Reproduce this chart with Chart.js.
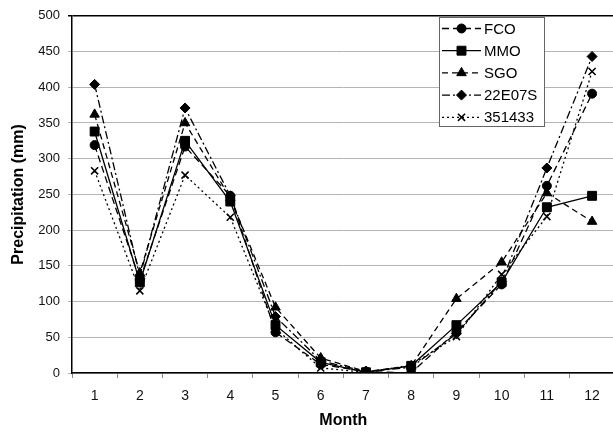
<!DOCTYPE html>
<html>
<head>
<meta charset="utf-8">
<script src="https://cdn.jsdelivr.net/npm/chart.js@4"></script>
<style>
  html, body { margin: 0; padding: 0; background: #fff; overflow: hidden; }
  canvas { display: block; }
</style>
</head>
<body>
<canvas id="rainChart" width="622" height="432"></canvas>
<script>
const months = ['1', '2', '3', '4', '5', '6', '7', '8', '9', '10', '11', '12'];
const fco = [319, 130, 317, 248, 57, 12, 2, 0, 58, 124, 262, 391];
const mmo = [338, 127, 325, 240, 67, 15, 1, 10, 67, 127, 232, 248];
const sgo = [362, 140, 350, 245, 92, 21, 2, 10, 104, 155, 252, 212];
const e07s = [404, 135, 371, 248, 79, 17, 2, 8, 55, 128, 287, 443];
const s351433 = [283, 115, 277, 218, 62, 7, 1, 11, 51, 138, 219, 422];
const yTicks = [0, 50, 100, 150, 200, 250, 300, 350, 400, 450, 500];

function series(label, data, style, radius, dash) {
    return {
        label: label,
        data: data,
        borderColor: '#000',
        backgroundColor: '#000',
        borderWidth: 1.3,
        borderDash: dash,
        pointStyle: style,
        pointRadius: radius,
        pointBorderWidth: style === 'crossRot' ? 1.6 : 1,
        pointBorderColor: '#000',
        pointBackgroundColor: '#000',
        tension: 0,
        fill: false
    };
}

// legend drawn inside the plot, each entry shows line style + marker
const boxLegend = {
    id: 'boxLegend',
    afterDraw(chart) {
        const ctx = chart.ctx;
        const x = 439, y = 17, w = 105, h = 109;
        ctx.save();
        ctx.fillStyle = '#fff';
        ctx.fillRect(x, y, w, h);
        ctx.strokeStyle = '#666';
        ctx.lineWidth = 1;
        ctx.strokeRect(x + 0.5, y + 0.5, w, h);
        ctx.font = '15px "Liberation Sans", Arial, sans-serif';
        ctx.textBaseline = 'middle';
        chart.data.datasets.forEach(function (ds, i) {
            const cy = 28.5 + i * 22.2;
            ctx.strokeStyle = '#000';
            ctx.fillStyle = '#000';
            ctx.lineWidth = ds.borderWidth;
            ctx.setLineDash(ds.borderDash || []);
            ctx.beginPath();
            ctx.moveTo(442, cy);
            ctx.lineTo(481, cy);
            ctx.stroke();
            ctx.setLineDash([]);
            ctx.lineWidth = ds.pointBorderWidth;
            Chart.helpers.drawPoint(ctx, {
                pointStyle: ds.pointStyle,
                radius: ds.pointRadius,
                borderWidth: ds.pointBorderWidth,
                rotation: 0
            }, 461.5, cy);
            ctx.fillStyle = '#000';
            ctx.fillText(ds.label, 484, cy + 1);
        });
        ctx.restore();
    }
};

new Chart(document.getElementById('rainChart'), {
    type: 'line',
    data: {
        labels: months,
        datasets: [
            series('FCO', fco, 'circle', 4.5, [7, 4]),
            series('MMO', mmo, 'rect', 6.3, []),
            series('SGO', sgo, 'triangle', 5.5, [6, 4]),
            series('22E07S', e07s, 'rectRot', 5, [8, 3, 2, 3]),
            series('351433', s351433, 'crossRot', 5, [2, 3])
        ]
    },
    options: {
        responsive: false,
        animation: false,
        devicePixelRatio: 1,
        layout: { padding: { top: 13, right: 3, left: 0, bottom: 0 } },
        plugins: {
            legend: { display: false },
            tooltip: { enabled: false }
        },
        scales: {
            x: {
                offset: true,
                grid: {
                    offset: true,
                    drawOnChartArea: false,
                    drawTicks: true,
                    tickLength: 5,
                    color: '#888'
                },
                border: { color: '#000', width: 1.5 },
                ticks: {
                    color: '#111',
                    padding: 10,
                    autoSkip: false,
                    maxRotation: 0,
                    minRotation: 0,
                    font: { family: '"Liberation Sans", Arial, sans-serif', size: 14 }
                },
                title: {
                    display: true,
                    text: 'Month',
                    color: '#000',
                    padding: { top: 6, bottom: 2 },
                    font: { family: '"Liberation Sans", Arial, sans-serif', size: 16, weight: 'bold' }
                },
                afterFit: function (scale) { scale.height = 59; }
            },
            y: {
                min: 0,
                max: 500,
                afterBuildTicks: function (scale) {
                    scale.ticks = yTicks.map(function (v) { return { value: v }; });
                },
                grid: {
                    color: function (c) { return c.tick && c.tick.value === 500 ? '#000' : '#b4b4b4'; },
                    lineWidth: function (c) { return c.tick && c.tick.value === 500 ? 1.5 : 1; },
                    drawTicks: true,
                    tickLength: 4
                },
                border: { color: '#000', width: 1.5 },
                ticks: {
                    color: '#111',
                    padding: 8,
                    autoSkip: false,
                    font: { family: '"Liberation Sans", Arial, sans-serif', size: 13 }
                },
                title: {
                    display: true,
                    text: 'Precipitation (mm)',
                    color: '#000',
                    padding: { top: 9, bottom: 2 },
                    font: { family: '"Liberation Sans", Arial, sans-serif', size: 16, weight: 'bold' }
                },
                afterFit: function (scale) { scale.width = 72; }
            }
        }
    },
    plugins: [boxLegend]
});
</script>
</body>
</html>
